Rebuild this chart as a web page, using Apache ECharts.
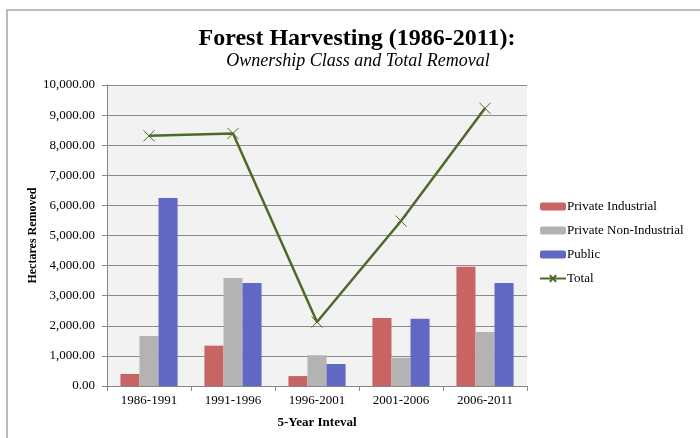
<!DOCTYPE html>
<html><head><meta charset="utf-8">
<script src="https://cdn.jsdelivr.net/npm/echarts@6/dist/echarts.min.js"></script>
<style>html,body{margin:0;padding:0;background:#fff}#c{width:700px;height:438px}</style>
</head><body><div id="c"></div>
<script>
var categories = ['1986-1991','1991-1996','1996-2001','2001-2006','2006-2011'];
var privateIndustrial = [400, 1340, 330, 2260, 3965];
var privateNonIndustrial = [1660, 3590, 1020, 940, 1795];
var publicLand = [6245, 3420, 730, 2235, 3420];
var total = [8310, 8390, 2125, 5480, 9225];
var seriesNames = ['Private Industrial','Private Non-Industrial','Public','Total'];

var chart = echarts.init(document.getElementById('c'));
var font = 'Liberation Serif';
chart.setOption({
  animation:false,
  textStyle:{fontFamily:font},
  title:[{
    text:'Forest Harvesting (1986-2011):',
    left:352, top:22, textAlign:'center',
    textStyle:{fontFamily:font,fontSize:24,fontWeight:'bold',color:'#000'}
  },{
    text:'Ownership Class and Total Removal',
    left:353, top:47, textAlign:'center',
    textStyle:{fontFamily:font,fontSize:18,fontStyle:'italic',fontWeight:'normal',color:'#000'}
  }],
  graphic:[{type:'rect',shape:{x:7,y:10,width:720,height:460},style:{fill:'none',stroke:'#a6a6a6',lineWidth:1.5},silent:true}],
  legend:{
    orient:'vertical', left:534, top:195, itemGap:11, itemWidth:26, itemHeight:8,
    textStyle:{fontFamily:font,fontSize:13,color:'#000',padding:[0,0,0,-4]},
    data:seriesNames
  },
  grid:{left:107,right:173,top:85,bottom:52,show:true,backgroundColor:'#f2f2f2',borderWidth:0},
  xAxis:{
    type:'category', data:categories,
    name:'5-Year Inteval', nameLocation:'middle', nameGap:30,
    nameTextStyle:{fontFamily:font,fontSize:13,fontWeight:'bold',color:'#000'},
    axisLine:{lineStyle:{color:'#888',width:1}},
    axisTick:{show:true,length:5,lineStyle:{color:'#888'}},
    axisLabel:{fontFamily:font,fontSize:13,color:'#000',margin:8}
  },
  yAxis:{
    type:'value', min:0, max:10000, interval:1000,
    name:'Hectares Removed', nameLocation:'middle', nameGap:68, nameMoveOverlap:false,
    nameTextStyle:{fontFamily:font,fontSize:12,fontWeight:'bold',color:'#000'},
    axisLine:{show:true,lineStyle:{color:'#888',width:1}},
    axisTick:{show:true,length:5,lineStyle:{color:'#888'}},
    splitLine:{lineStyle:{color:'#8c8c8c',width:1}},
    axisLabel:{fontFamily:font,fontSize:13,color:'#000',margin:12,
      formatter:function(v){return v.toLocaleString('en-US',{minimumFractionDigits:2,maximumFractionDigits:2});}}
  },
  series:[
    {name:seriesNames[0],type:'bar',data:privateIndustrial,barGap:'0%',barCategoryGap:'32%',itemStyle:{color:'#c86464'}},
    {name:seriesNames[1],type:'bar',data:privateNonIndustrial,itemStyle:{color:'#b3b3b3'}},
    {name:seriesNames[2],type:'bar',data:publicLand,itemStyle:{color:'#6068c4'}},
    {name:seriesNames[3],type:'line',data:total,
     symbol:'path://M0,0L10,10M10,0L0,10',symbolSize:11,
     lineStyle:{color:'#4e6a28',width:2.5},
     itemStyle:{color:'#4e6a28',borderColor:'#4e6a28',borderWidth:1}}
  ]
});
</script></body></html>
